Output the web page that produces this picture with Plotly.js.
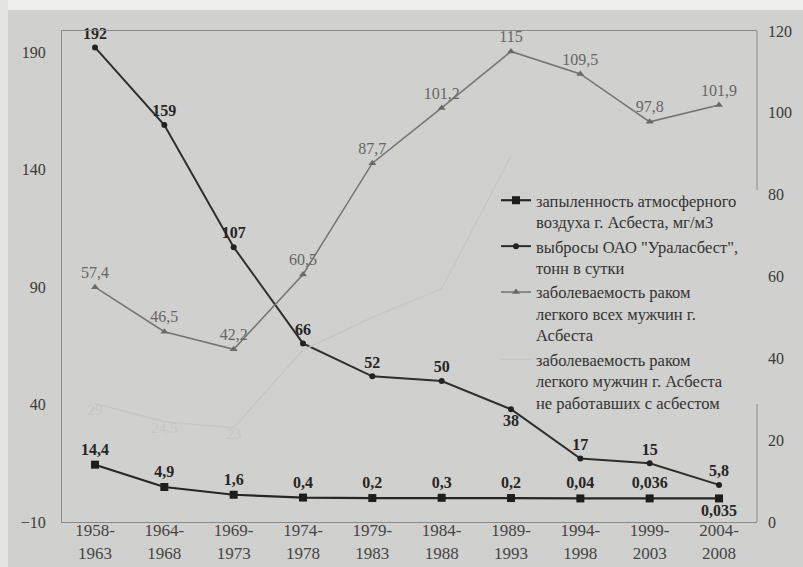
<!DOCTYPE html>
<html>
<head>
<meta charset="utf-8">
<script src="https://cdn.plot.ly/plotly-3.0.1.min.js"></script>
<style>html,body{margin:0;padding:0;background:#d0d0ce;}#chart{width:803px;height:567px;}</style>
</head>
<body>
<div id="chart"></div>
<script>
// ---- data ----
const periods = ['1958-<br>1963','1964-<br>1968','1969-<br>1973','1974-<br>1978','1979-<br>1983',
                 '1984-<br>1988','1989-<br>1993','1994-<br>1998','1999-<br>2003','2004-<br>2008'];
const dust      = [14.4, 4.9, 1.6, 0.4, 0.2, 0.3, 0.2, 0.04, 0.036, 0.035];
const emissions = [192, 159, 107, 66, 52, 50, 38, 17, 15, 5.8];
const cancerAll = [57.4, 46.5, 42.2, 60.5, 87.7, 101.2, 115, 109.5, 97.8, 101.9];
const cancerNon = [29, 24.5, 23, 42, 50, 57, 89.5, null, null, null];

const nameDust = 'запыленность атмосферного<br>воздуха г. Асбеста, мг/м3';
const nameEmis = 'выбросы ОАО "Ураласбест",<br>тонн в сутки';
const nameAll  = 'заболеваемость раком<br>легкого всех мужчин г.<br>Асбеста';
const nameNon  = 'заболеваемость раком<br>легкого мужчин г. Асбеста<br>не работавших с асбестом';

const fmt = v => (v === null ? '' : String(v).replace('.', ','));
const serif = '"Liberation Serif", "DejaVu Serif", serif';

const dustPos = dust.map((v, i) => i === dust.length - 1 ? 'bottom center' : 'top center');
const emisPos = emissions.map((v, i) => i === 6 ? 'bottom center' : 'top center');

const traces = [
  {
    x: periods, y: cancerNon, yaxis: 'y2', name: nameNon, legendrank: 4,
    mode: 'lines+text', type: 'scatter',
    line: {color: '#c6c6c4', width: 1.3},
    text: cancerNon.map((v, i) => i < 3 ? fmt(v) : ''), textposition: 'bottom center',
    textfont: {family: serif, size: 15, color: '#c6c6c4'},
    cliponaxis: false, connectgaps: false
  },
  {
    x: periods, y: cancerAll, yaxis: 'y2', name: nameAll, legendrank: 3,
    mode: 'lines+markers+text', type: 'scatter',
    line: {color: '#747474', width: 1.5},
    marker: {symbol: 'triangle-up', size: 7, color: '#6a6a6a'},
    text: cancerAll.map(fmt), textposition: 'top center',
    textfont: {family: serif, size: 16, color: '#666666'},
    cliponaxis: false
  },
  {
    x: periods, y: emissions, yaxis: 'y', name: nameEmis, legendrank: 2,
    mode: 'lines+markers+text', type: 'scatter',
    line: {color: '#2e2e2e', width: 2},
    marker: {symbol: 'circle', size: 6, color: '#222222'},
    text: emissions.map(fmt), textposition: emisPos,
    textfont: {family: serif, size: 16, color: '#262626', weight: 'bold'},
    cliponaxis: false
  },
  {
    x: periods, y: dust, yaxis: 'y', name: nameDust, legendrank: 1,
    mode: 'lines+markers+text', type: 'scatter',
    line: {color: '#262626', width: 2.2},
    marker: {symbol: 'square', size: 8, color: '#1e1e1e'},
    text: dust.map(fmt), textposition: dustPos,
    textfont: {family: serif, size: 16, color: '#262626', weight: 'bold'},
    cliponaxis: false
  }
];

const W = 803, H = 567, L = 62, R = 46, T = 31, B = 45;
const pw = W - L - R, ph = H - T - B;
const px = x => (x - L) / pw;
const py = y => 1 - (y - T) / ph;

const layout = {
  width: W, height: H,
  margin: {l: L, r: R, t: T, b: B},
  paper_bgcolor: '#d0d0ce', plot_bgcolor: '#d0d0ce',
  font: {family: serif, size: 16, color: '#3a3a3a'},
  showlegend: true,
  legend: {
    x: px(496), y: py(183), xanchor: 'left', yanchor: 'top',
    bgcolor: 'rgba(0,0,0,0)', borderwidth: 0, valign: 'top',
    font: {family: serif, size: 16.5, color: '#333333'},
    traceorder: 'normal'
  },
  xaxis: {
    type: 'category', range: [-0.476, 9.548],
    showgrid: false, zeroline: false,
    showline: true, linecolor: '#8a8a8a', linewidth: 1, mirror: true,
    ticks: '', ticklabelstandoff: -7,
    tickfont: {family: serif, size: 17, color: '#444444'}
  },
  yaxis: {
    range: [-10, 199], tick0: -10, dtick: 50,
    showgrid: false, zeroline: false,
    showline: true, linecolor: '#8a8a8a', linewidth: 1,
    ticks: '', ticklabelstandoff: 12,
    tickfont: {family: serif, size: 16, color: '#3a3a3a'}
  },
  yaxis2: {
    overlaying: 'y', side: 'right', range: [0, 120], dtick: 20,
    showgrid: false, zeroline: false, showline: false,
    ticks: '', ticklabelstandoff: 10,
    tickfont: {family: serif, size: 16, color: '#3a3a3a'}
  },
  shapes: [
    {type: 'line', xref: 'paper', yref: 'paper', x0: 1, x1: 1, y0: 1, y1: py(190),
     line: {color: '#8a8a8a', width: 1}},
    {type: 'line', xref: 'paper', yref: 'paper', x0: 1, x1: 1, y0: py(404), y1: 0,
     line: {color: '#8a8a8a', width: 1}},
    {type: 'rect', xref: 'paper', yref: 'paper', x0: px(0), x1: px(W), y0: py(10), y1: py(0),
     fillcolor: '#efefed', line: {width: 0}, layer: 'below'},
    {type: 'rect', xref: 'paper', yref: 'paper', x0: px(0), x1: px(8), y0: py(H), y1: py(0),
     fillcolor: '#e4e4e2', line: {width: 0}, layer: 'below'}
  ]
};

Plotly.newPlot('chart', traces, layout, {displayModeBar: false, staticPlot: true});
</script>
</body>
</html>
